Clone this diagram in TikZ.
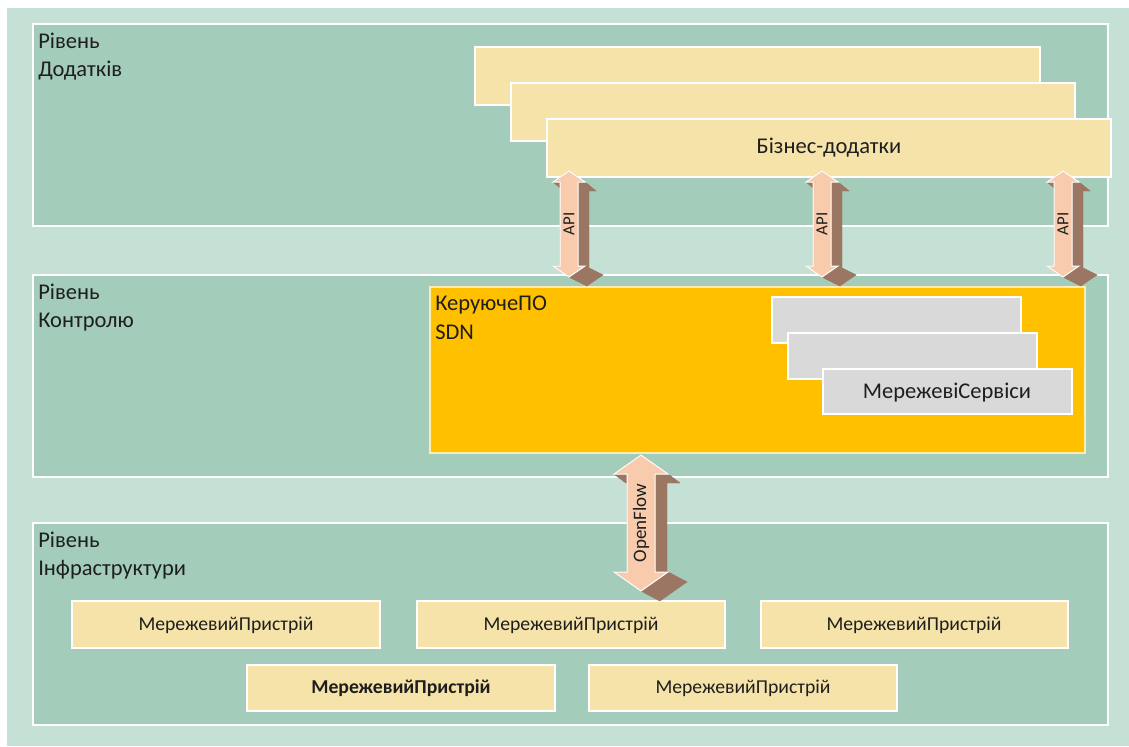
\documentclass[tikz,border=0pt]{standalone}
\usepackage{fontspec}
\setmainfont{Carlito}
\usetikzlibrary{calc}

\definecolor{mintbg}{HTML}{C5E0D5}
\definecolor{layerbg}{HTML}{A3CDBA}
\definecolor{sandbox}{HTML}{F6E3A9}
\definecolor{goldbox}{HTML}{FFC000}
\definecolor{greybox}{HTML}{D9D9D9}
\definecolor{arrowfront}{HTML}{F8CBAD}
\definecolor{arrowside}{HTML}{9B7763}
\definecolor{inktext}{HTML}{1E1E1E}

\tikzset{
  layer/.style={fill=layerbg, draw=white, line width=0.8pt},
  appbox/.style={fill=sandbox, draw=white, line width=0.8pt},
  devbox/.style={fill=sandbox, draw=white, line width=0.8pt},
  ctrlbox/.style={fill=goldbox, draw=white!70!goldbox, line width=0.8pt},
  svcbox/.style={fill=greybox, draw=white, line width=0.8pt},
  layerlabel/.style={anchor=north west, align=left, inner sep=0pt, text=inktext,
    font=\fontsize{16}{20}\selectfont},
  boxlabel/.style={inner sep=0pt, text=inktext, font=\fontsize{16}{19}\selectfont},
  devlabel/.style={inner sep=0pt, text=inktext, font=\fontsize{14}{17}\selectfont},
  arrowlabel/.style={rotate=90, inner sep=0pt, text=inktext},
  arrowface/.style={fill=arrowfront, draw=white, line width=0.7pt, line join=miter},
  arrowdepth/.style={fill=arrowside, draw=arrowside, line width=0.2pt},
}

% extruded double-headed arrow:
% #1 name, #2 centre x, #3 top y, #4 bottom y, #5 head half width,
% #6 shaft half width, #7 head length, #8 depth offset of shaft and top head,
% #9 depth offset of the bottom head; label taken from \arrowtext
\newcommand\extarrow[9]{%
  \coordinate (#1-1) at (#2,#3);
  \coordinate (#1-2) at (#2+#5,#3+#7);
  \coordinate (#1-3) at (#2+#6,#3+#7);
  \coordinate (#1-4) at (#2+#6,#4-#7);
  \coordinate (#1-5) at (#2+#5,#4-#7);
  \coordinate (#1-6) at (#2,#4);
  \coordinate (#1-7) at (#2-#5,#4-#7);
  \coordinate (#1-8) at (#2-#6,#4-#7);
  \coordinate (#1-9) at (#2-#6,#3+#7);
  \coordinate (#1-10) at (#2-#5,#3+#7);
  \foreach \k in {1,2,3,4,8,9,10} \coordinate (#1-b\k) at ($(#1-\k)+#8$);
  \foreach \k in {5,6,7} \coordinate (#1-b\k) at ($(#1-\k)+#9$);
  \foreach \i/\j in {1/2,2/3,3/4,4/5,5/6,6/7,7/8,8/9,9/10,10/1}
    \fill[arrowdepth] (#1-\i) -- (#1-\j) -- (#1-b\j) -- (#1-b\i) -- cycle;
  \filldraw[arrowface] (#1-1) -- (#1-2) -- (#1-3) -- (#1-4) -- (#1-5) -- (#1-6)
    -- (#1-7) -- (#1-8) -- (#1-9) -- (#1-10) -- cycle;
  \node[arrowlabel] (#1) at (#2,{(#3+#4)/2}) {\arrowtext};
}

\begin{document}
\begin{tikzpicture}[x=0.025cm, y=-0.025cm]
  \useasboundingbox (0,0) rectangle (1129,746);
  \fill[white] (0,0) rectangle (1129,746);
  \fill[mintbg] (7,8) rectangle (1129,746);

  % application layer
  \draw[layer] (33,24) rectangle (1108,226);
  \node[layerlabel] (applbl) at (38,33) {Рівень\\Додатків};
  \draw[appbox] (475,47) rectangle (1040,105);
  \draw[appbox] (511,83) rectangle (1075,141);
  \draw[appbox] (547,119) rectangle (1111,177);
  \node[boxlabel] (bizapps) at (829,148) {Бізнес-додатки};

  % control layer
  \draw[layer] (33,275) rectangle (1108,477);
  \node[layerlabel] (ctrllbl) at (38,284) {Рівень\\Контролю};
  \draw[ctrlbox] (430,287) rectangle (1085,453);
  \node[layerlabel] (sdnlbl) at (435,296) {КеруючеПО\\SDN};
  \draw[svcbox] (772,297) rectangle (1021,343);
  \draw[svcbox] (788,333) rectangle (1037,379);
  \draw[svcbox] (823,369) rectangle (1072,414);
  \node[boxlabel] (netsvc) at (947,393) {МережевіСервіси};

  % infrastructure layer
  \draw[layer] (33,523) rectangle (1108,725);
  \node[layerlabel] (infralbl) at (38,532) {Рівень\\Інфраструктури};
  \draw[devbox] (72,601) rectangle (380,648);
  \node[devlabel] (dev1) at (226,625) {МережевийПристрій};
  \draw[devbox] (417,601) rectangle (725,648);
  \node[devlabel] (dev2) at (571,625) {МережевийПристрій};
  \draw[devbox] (761,601) rectangle (1068,648);
  \node[devlabel] (dev3) at (914,625) {МережевийПристрій};
  \draw[devbox] (247,665) rectangle (555,711);
  \node[devlabel, font=\fontsize{14}{17}\selectfont\bfseries] (dev4) at (401,688) {МережевийПристрій};
  \draw[devbox] (589,665) rectangle (897,711);
  \node[devlabel] (dev5) at (743,688) {МережевийПристрій};

  % interfaces between layers
  \def\arrowtext{\fontsize{12}{14}\selectfont API}
  \extarrow{api1}{569}{171}{277}{16}{9}{11}{(11,9)}{(18,9)}
  \extarrow{api2}{822}{171}{277}{16}{9}{11}{(11,9)}{(18,9)}
  \extarrow{api3}{1063}{171}{277}{16}{9}{11}{(11,9)}{(18,9)}
  \def\arrowtext{\fontsize{13.5}{16}\selectfont OpenFlow}
  \extarrow{openflow}{641}{455}{591}{27}{14}{19}{(12,9)}{(19,10)}
\end{tikzpicture}
\end{document}
